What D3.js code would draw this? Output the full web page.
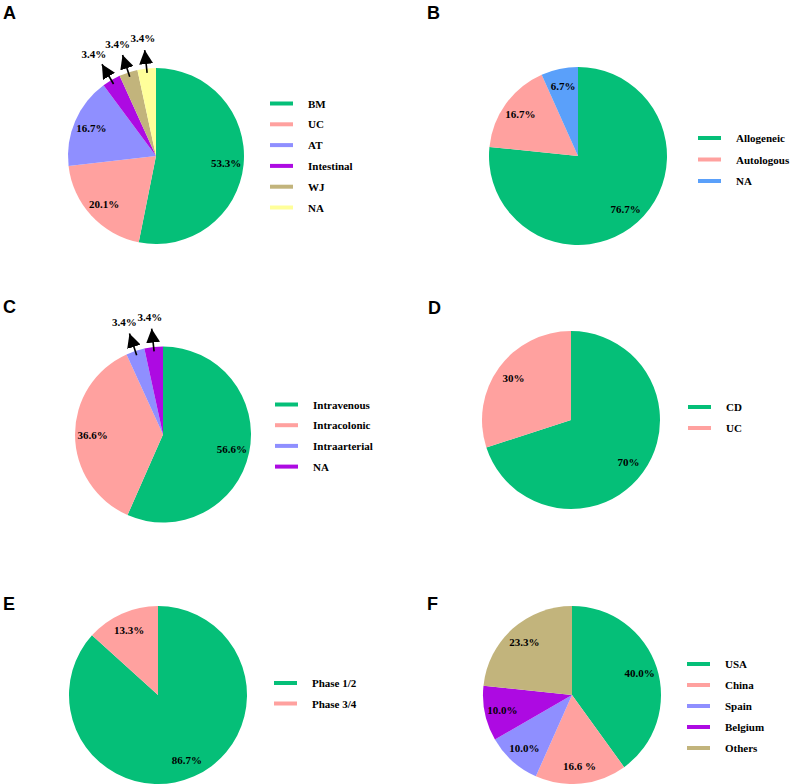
<!DOCTYPE html>
<html><head><meta charset="utf-8">
<script src="https://cdn.jsdelivr.net/npm/d3@7"></script>
<style>html,body{margin:0;padding:0;background:#fff;}svg{display:block;}</style>
</head><body>
<script>
// ---- data ----
const sourceCategories = ["BM","UC","AT","Intestinal","WJ","NA"];
const sourceValues = [53.3,20.1,16.7,3.4,3.4,3.4];
const sourceLabels = ["53.3%","20.1%","16.7%","3.4%","3.4%","3.4%"];

const typeCategories = ["Allogeneic","Autologous","NA"];
const typeValues = [76.7,16.7,6.7];
const typeLabels = ["76.7%","16.7%","6.7%"];

const routeCategories = ["Intravenous","Intracolonic","Intraarterial","NA"];
const routeValues = [56.6,36.6,3.4,3.4];
const routeLabels = ["56.6%","36.6%","3.4%","3.4%"];

const diseaseCategories = ["CD","UC"];
const diseaseValues = [70,30];
const diseaseLabels = ["70%","30%"];

const phaseCategories = ["Phase 1/2","Phase 3/4"];
const phaseValues = [86.7,13.3];
const phaseLabels = ["86.7%","13.3%"];

const countryCategories = ["USA","China","Spain","Belgium","Others"];
const countryValues = [40.0,16.6,10.0,10.0,23.3];
const countryLabels = ["40.0%","16.6 %","10.0%","10.0%","23.3%"];

// ---- colours ----
const GREEN="#05BF78", PINK="#FFA19F", LAV="#8F8FFF", PURPLE="#AD0AE2", KHAKI="#C2B47C", YELLOW="#FFFF9A", BLUE="#5AA0FA";
const sourceColors=[GREEN,PINK,LAV,PURPLE,KHAKI,YELLOW];
const typeColors=[GREEN,PINK,BLUE];
const routeColors=[GREEN,PINK,LAV,PURPLE];
const diseaseColors=[GREEN,PINK];
const phaseColors=[GREEN,PINK];
const countryColors=[GREEN,PINK,LAV,PURPLE,KHAKI];

const W=797,H=784;
const svg=d3.select("body").append("svg").attr("width",W).attr("height",H);
const defs=svg.append("defs");
defs.append("marker").attr("id","arrow").attr("markerUnits","userSpaceOnUse")
  .attr("viewBox","0 0 14 14").attr("refX",14).attr("refY",7)
  .attr("markerWidth",14).attr("markerHeight",14).attr("orient","auto")
  .append("path").attr("d","M0,0 L14,7 L0,14 Z").attr("fill","#000");

const SERIF="'Liberation Serif','Times New Roman',serif";
const SANS="'Liberation Sans',Arial,sans-serif";

function panel(o){
  const g=svg.append("g");
  g.append("text").attr("x",o.lx).attr("y",o.ly).text(o.letter)
   .attr("font-family",SANS).attr("font-weight","bold").attr("font-size",18).attr("fill","#000");
  const pie=d3.pie().sort(null).value(d=>d)(o.values);
  const arc=d3.arc().innerRadius(0).outerRadius(o.r);
  const pg=g.append("g").attr("transform",`translate(${o.cx},${o.cy})`);
  pg.selectAll("path.slice").data(pie).join("path").attr("class","slice")
    .attr("d",arc).attr("fill",(d,i)=>o.colors[i]);
  const labelArc=d3.arc().innerRadius(o.r*0.8).outerRadius(o.r*0.8);
  pie.forEach((d,i)=>{
    const mid=(d.startAngle+d.endAngle)/2;
    const sx=Math.sin(mid), sy=-Math.cos(mid);
    if(o.values[i]<5){
      const t0=o.r*0.95, t1=o.r*1.21;
      pg.append("line").attr("x1",sx*t0).attr("y1",sy*t0).attr("x2",sx*t1).attr("y2",sy*t1)
        .attr("stroke","#000").attr("stroke-width",1.6).attr("marker-end","url(#arrow)");
      pg.append("text").attr("x",sx*t1+sx*16).attr("y",sy*t1+sy*12)
        .attr("text-anchor","middle").attr("dominant-baseline","central")
        .attr("font-family",SERIF).attr("font-weight","bold").attr("font-size",11).text(o.labels[i]);
    } else {
      const c=labelArc.centroid(d);
      pg.append("text").attr("x",c[0]).attr("y",c[1])
        .attr("text-anchor","middle").attr("dominant-baseline","central")
        .attr("font-family",SERIF).attr("font-weight","bold").attr("font-size",11).text(o.labels[i]);
    }
  });
  const lg=g.append("g").attr("transform",`translate(${o.gx},${o.gy})`);
  o.cats.forEach((c,i)=>{
    const y=i*o.step;
    lg.append("line").attr("x1",0).attr("x2",23).attr("y1",y).attr("y2",y)
      .attr("stroke",o.colors[i]).attr("stroke-width",4);
    lg.append("text").attr("x",38).attr("y",y).attr("dominant-baseline","central")
      .attr("font-family",SERIF).attr("font-weight","bold").attr("font-size",11).text(c);
  });
}

panel({letter:"A",lx:3,ly:19,cx:156,cy:156,r:88,values:sourceValues,labels:sourceLabels,cats:sourceCategories,colors:sourceColors,gx:270,gy:103.5,step:20.8});
panel({letter:"B",lx:427,ly:19,cx:578,cy:156,r:89,values:typeValues,labels:typeLabels,cats:typeCategories,colors:typeColors,gx:698,gy:138,step:21.5});
panel({letter:"C",lx:3,ly:313,cx:163,cy:434.5,r:88,values:routeValues,labels:routeLabels,cats:routeCategories,colors:routeColors,gx:275,gy:404.5,step:20.7});
panel({letter:"D",lx:428,ly:314,cx:571,cy:420,r:89,values:diseaseValues,labels:diseaseLabels,cats:diseaseCategories,colors:diseaseColors,gx:688,gy:407,step:21});
panel({letter:"E",lx:3,ly:610,cx:158,cy:695,r:89,values:phaseValues,labels:phaseLabels,cats:phaseCategories,colors:phaseColors,gx:274,gy:683,step:20.5});
panel({letter:"F",lx:427,ly:610,cx:572,cy:695,r:89,values:countryValues,labels:countryLabels,cats:countryCategories,colors:countryColors,gx:687,gy:664,step:21});
</script>
</body></html>
